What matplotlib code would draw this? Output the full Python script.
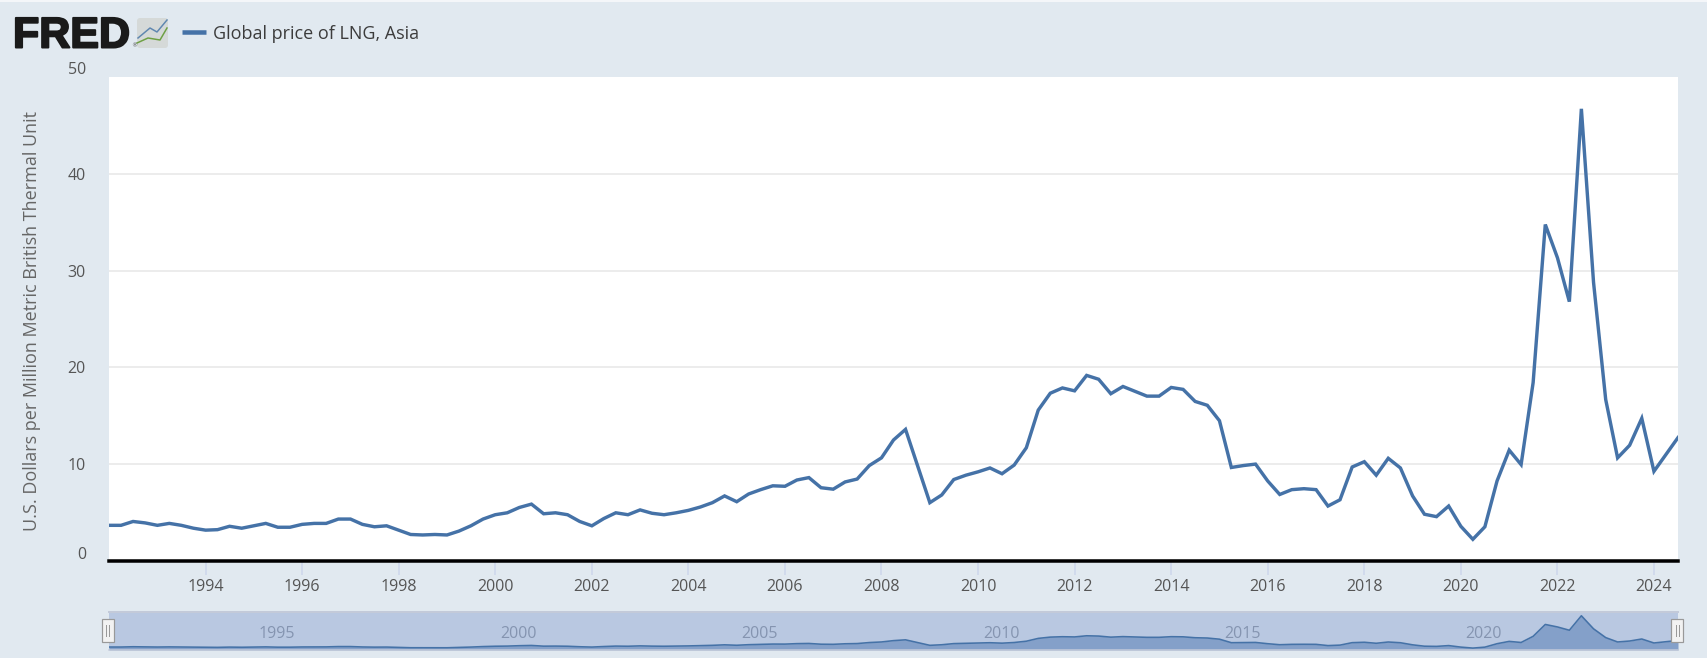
import pandas as pd
import matplotlib
matplotlib.use("Agg")
import matplotlib.pyplot as plt
import matplotlib.dates as mdates
import matplotlib.patheffects as pe
from matplotlib.patches import FancyBboxPatch, Rectangle
from matplotlib.transforms import Affine2D

# quarterly values, 1992 Q1 onward
prices_1992_2001 = [
    3.6, 3.6, 4.0, 3.85, 3.6, 3.8, 3.6, 3.3, 3.1, 3.15,
    3.5, 3.3, 3.55, 3.8, 3.4, 3.4, 3.7, 3.8, 3.8, 4.25,
    4.25, 3.7, 3.45, 3.55, 3.1, 2.65, 2.6, 2.65, 2.6, 3.0,
    3.55, 4.25, 4.7, 4.9, 5.45, 5.8, 4.8, 4.9, 4.7, 4.0,
]
prices_2002_2011 = [
    3.55, 4.3, 4.9, 4.7, 5.2, 4.85, 4.7, 4.9, 5.15, 5.5,
    5.95, 6.65, 6.05, 6.85, 7.3, 7.7, 7.65, 8.3, 8.55, 7.5,
    7.35, 8.1, 8.4, 9.8, 10.6, 12.45, 13.55, 9.75, 5.95, 6.75,
    8.35, 8.8, 9.15, 9.55, 8.95, 9.85, 11.65, 15.55, 17.3, 17.85,
]
prices_2012_2021 = [
    17.55, 19.15, 18.75, 17.25, 18.0, 17.5, 17.0, 17.0, 17.9, 17.7,
    16.45, 16.05, 14.45, 9.6, 9.8, 9.95, 8.2, 6.8, 7.3, 7.4,
    7.3, 5.6, 6.25, 9.65, 10.2, 8.8, 10.55, 9.55, 6.65, 4.75,
    4.5, 5.6, 3.5, 2.15, 3.45, 8.2, 11.4, 9.9, 18.4, 34.8,
]
prices_2022_2024 = [31.35, 26.8, 46.8, 28.8, 16.65, 10.6, 11.9, 14.7, 9.2, 10.95, 12.7]
prices = prices_1992_2001 + prices_2002_2011 + prices_2012_2021 + prices_2022_2024

y_ticks = [0, 10, 20, 30, 40, 50]
x_tick_years = list(range(1994, 2025, 2))
nav_years = [1995, 2000, 2005, 2010, 2015, 2020]

dates = pd.date_range("1992-01-01", periods=len(prices), freq="QS")

W, H = 1708, 658
BG = "#e1e9f0"
BLUE = "#4572a7"
FONT = "Open Sans"


def px_rect(left, top, right, bottom):
    return [left / W, 1 - bottom / H, (right - left) / W, (bottom - top) / H]


def px(n):
    # pixels to points at dpi 100
    return n * 0.72


fig = plt.figure(figsize=(W / 100, H / 100), dpi=100, facecolor=BG)

# main chart
ax = fig.add_axes(px_rect(109, 77, 1678, 561))
ax.plot(dates, prices, color=BLUE, lw=px(3.4), solid_joinstyle="miter", zorder=3)
ax.set_xlim(dates[0], dates[-1])
ax.set_ylim(-0.1, 50.1)
ax.set_yticks(y_ticks)
ax.set_xticks(pd.to_datetime([f"{y}-01-01" for y in x_tick_years]))
ax.set_xticklabels([str(y) for y in x_tick_years])
ax.grid(axis="y", color="#e6e6e6", lw=px(1.5))
ax.set_axisbelow(True)
for side in ["top", "right", "left"]:
    ax.spines[side].set_visible(False)
ax.spines["bottom"].set_color("black")
ax.spines["bottom"].set_linewidth(px(3.5))
ax.spines["bottom"].set_zorder(5)
ax.tick_params(axis="y", length=0, pad=px(23), labelsize=px(16), labelcolor="#555555")
ax.tick_params(axis="x", length=px(14), width=px(1.5), color="#ccd6eb", pad=px(4),
               labelsize=px(16), labelcolor="#555555")
for lab in ax.get_xticklabels() + ax.get_yticklabels():
    lab.set_fontfamily(FONT)

# 0 and 50 sit above their gridlines in the original
ytick_objs = ax.yaxis.get_major_ticks()
ytick_objs[-1].gridline.set_visible(False)
for t, dy in [(ytick_objs[0], 7.5), (ytick_objs[-1], 10)]:
    t.label1.set_transform(t.label1.get_transform() + Affine2D().translate(0, dy))

fig.text(32 / W, 1 - 321 / H, "U.S. Dollars per Million Metric British Thermal Unit",
         rotation=90, ha="center", va="center", fontsize=px(18), color="#666666",
         family=FONT)

# navigator strip
nav = fig.add_axes(px_rect(109, 612, 1678, 650))
nav.set_facecolor("#b9c8e1")
nav.fill_between(dates, prices, -0.5, color="#84a0c9", lw=0)
nav.plot(dates, prices, color=BLUE, lw=px(1.6))
nav.set_xlim(dates[0], dates[-1])
nav.set_ylim(-0.5, 52)
nav.set_xticks([])
nav.set_yticks([])
for side in nav.spines:
    nav.spines[side].set_visible(False)
nav.spines["top"].set_visible(True)
nav.spines["top"].set_color("#c3cad9")
nav.spines["top"].set_linewidth(px(2))
nav.spines["bottom"].set_visible(True)
nav.spines["bottom"].set_color("#c3cad9")
nav.spines["bottom"].set_linewidth(px(1.5))
for yr in nav_years:
    xpos = mdates.date2num(pd.Timestamp(f"{yr}-01-01"))
    nav.annotate(str(yr), xy=(xpos, 0), xycoords=nav.get_xaxis_transform(),
                 xytext=(23, 12), textcoords="offset pixels", ha="center", va="baseline",
                 fontsize=px(16), color="#6f7f9c", alpha=0.7, family=FONT)

# overlay in pixel coordinates for the logo, legend and handles
ov = fig.add_axes([0, 0, 1, 1], facecolor="none", zorder=10)
ov.set_xlim(0, W)
ov.set_ylim(H, 0)
ov.axis("off")

ov.add_patch(Rectangle((0, 0), W, 2, color="#f4f6f9", lw=0))

ov.text(13, 47.5, "FRED", fontsize=px(43), fontweight="bold", family="Liberation Sans",
        color="#1a1a1a", va="baseline", ha="left",
        path_effects=[pe.withStroke(linewidth=px(2), foreground="#1a1a1a")])
ov.text(134, 46, "®", fontsize=px(6), color="#555555", ha="center", va="center")

ov.add_patch(FancyBboxPatch((137, 18), 31, 30, boxstyle="round,pad=0,rounding_size=3",
                            fc="#d5d9d8", ec="none"))
ov.plot([138, 150, 157, 167], [38, 28, 32, 20], color="#5f87b0", lw=px(1.5))
ov.plot([137, 148, 160, 167], [43, 38, 40, 28], color="#6da043", lw=px(1.5))

ov.plot([182, 206], [31.5, 31.5], color=BLUE, lw=px(4.5), solid_capstyle="butt")
ov.text(213, 34, "Global price of LNG, Asia", fontsize=px(18), color="#3c3c3c",
        va="center", ha="left", family=FONT)

for cx in [108, 1677.5]:
    ov.add_patch(Rectangle((cx - 6, 619), 12, 23, fc="#f2f2f2", ec="#999999", lw=px(1.2)))
    ov.plot([cx - 1.5, cx - 1.5], [625, 636], color="#999999", lw=px(1))
    ov.plot([cx + 1.5, cx + 1.5], [625, 636], color="#999999", lw=px(1))

fig.savefig("out.png", dpi=100, facecolor=BG)
